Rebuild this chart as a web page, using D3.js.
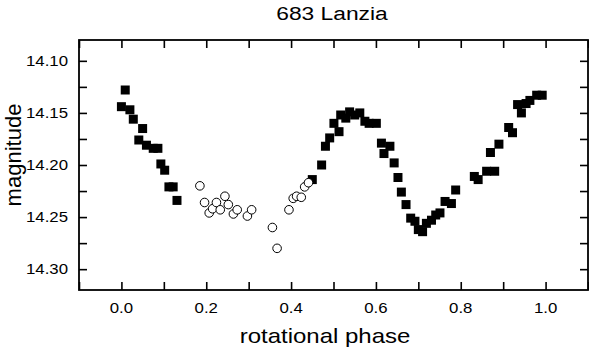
<!DOCTYPE html>
<html>
<head>
<meta charset="utf-8">
<script src="https://cdn.jsdelivr.net/npm/d3@7"></script>
<style>
  body { margin: 0; background: #fff; }
  svg { display: block; }
  text { font-family: Arial, "Liberation Sans", sans-serif; fill: #000; }
</style>
</head>
<body>
<div id="chart"></div>
<script>
// filled squares: measured phase / magnitude
const phaseFilled = [
    0.000, 0.009, 0.020, 0.028, 0.041, 0.050, 0.059, 0.075, 0.086, 0.093,
    0.102, 0.112, 0.122, 0.131,
    0.450, 0.472, 0.481, 0.491, 0.501, 0.513, 0.517, 0.529, 0.538, 0.550,
    0.562, 0.574, 0.584, 0.601, 0.613, 0.619, 0.633, 0.643, 0.652, 0.660,
    0.671, 0.682, 0.692, 0.700, 0.710, 0.719, 0.731, 0.741, 0.751, 0.763,
    0.778, 0.788, 0.832, 0.841, 0.861, 0.870, 0.880, 0.890, 0.913, 0.922,
    0.934, 0.943, 0.954, 0.963, 0.979, 0.992
];
const magFilled = [
    14.144, 14.128, 14.147, 14.156, 14.176, 14.165, 14.181, 14.184, 14.184, 14.199,
    14.205, 14.221, 14.221, 14.234,
    14.214, 14.200, 14.182, 14.174, 14.160, 14.168, 14.152, 14.155, 14.149, 14.152,
    14.150, 14.158, 14.160, 14.160, 14.179, 14.189, 14.182, 14.198, 14.212, 14.226,
    14.238, 14.251, 14.254, 14.262, 14.264, 14.256, 14.253, 14.248, 14.246, 14.235,
    14.237, 14.224, 14.211, 14.214, 14.206, 14.188, 14.206, 14.180, 14.164, 14.169,
    14.142, 14.150, 14.141, 14.138, 14.133, 14.133
];

// open circles
const phaseOpen = [
    0.185, 0.196, 0.207, 0.215, 0.224, 0.233, 0.244, 0.252, 0.264, 0.273,
    0.297, 0.307, 0.356, 0.367, 0.395, 0.405, 0.413, 0.424, 0.432, 0.441
];
const magOpen = [
    14.220, 14.236, 14.246, 14.242, 14.236, 14.243, 14.230, 14.238, 14.247, 14.243,
    14.249, 14.243, 14.260, 14.280, 14.243, 14.232, 14.230, 14.231, 14.221, 14.217
];

const xTicks = [0.0, 0.2, 0.4, 0.6, 0.8, 1.0];
const xMinor = [-0.1, 0.1, 0.3, 0.5, 0.7, 0.9, 1.1];
const yTicks = [14.10, 14.15, 14.20, 14.25, 14.30];
const yMinor = [14.125, 14.175, 14.225, 14.275];

const width = 589, height = 349;
const margin = { top: 40, right: 1, bottom: 59, left: 79 };
const innerW = width - margin.left - margin.right;
const innerH = height - margin.top - margin.bottom;
const stretch = 1.2; // the original lettering is wide

const svg = d3.select('#chart')
    .append('svg')
    .attr('width', width)
    .attr('height', height);

const x = d3.scaleLinear().domain([-0.1, 1.1]).range([0, innerW]);
const y = d3.scaleLinear().domain([14.08, 14.32]).range([0, innerH]);

const g = svg.append('g')
    .attr('transform', `translate(${margin.left},${margin.top})`);

// ticks pointing inward on all four sides
const tickLen = 8;
function drawAxis(axis, transform, ticks) {
    const a = g.append('g')
        .attr('transform', transform)
        .call(axis.tickValues(ticks).tickSize(tickLen).tickFormat(''));
    a.select('.domain').remove();
    a.selectAll('line').attr('stroke', '#000').attr('stroke-width', 1.6);
}
drawAxis(d3.axisTop(x), `translate(0,${innerH})`, xTicks.concat(xMinor));
drawAxis(d3.axisBottom(x), 'translate(0,0)', xTicks.concat(xMinor));
drawAxis(d3.axisRight(y), 'translate(0,0)', yTicks.concat(yMinor));
drawAxis(d3.axisLeft(y), `translate(${innerW},0)`, yTicks.concat(yMinor));

// frame
g.append('rect')
    .attr('width', innerW)
    .attr('height', innerH)
    .attr('fill', 'none')
    .attr('stroke', '#000')
    .attr('stroke-width', 1.8);

// wide text helper
function wideText(parent, px, py, size, anchor, str) {
    return parent.append('text')
        .attr('transform', `translate(${px},${py}) scale(${stretch},1)`)
        .attr('text-anchor', anchor)
        .style('font-size', size + 'px')
        .text(str);
}

// tick labels
xTicks.forEach(d => wideText(g, x(d), innerH + 23, 14, 'middle', d.toFixed(1)));
yTicks.forEach(d => wideText(g, -11, y(d) + 5, 14, 'end', d.toFixed(2)));

// points
g.selectAll('.sq')
    .data(phaseFilled.map((p, i) => [p, magFilled[i]]))
    .enter()
    .append('rect')
    .attr('class', 'sq')
    .attr('x', d => x(d[0]) - 4.5)
    .attr('y', d => y(d[1]) - 4.5)
    .attr('width', 9)
    .attr('height', 9)
    .attr('fill', '#000');

g.selectAll('.ci')
    .data(phaseOpen.map((p, i) => [p, magOpen[i]]))
    .enter()
    .append('circle')
    .attr('class', 'ci')
    .attr('cx', d => x(d[0]))
    .attr('cy', d => y(d[1]))
    .attr('r', 4.3)
    .attr('fill', '#fff')
    .attr('stroke', '#000')
    .attr('stroke-width', 1);

// titles
wideText(svg, 332, 20, 19, 'middle', '683 Lanzia');
wideText(svg, 325, 343, 20, 'middle', 'rotational phase');

svg.append('text')
    .attr('transform', 'translate(21,155) rotate(-90)')
    .attr('text-anchor', 'middle')
    .style('font-size', '22px')
    .text('magnitude');
</script>
</body>
</html>
